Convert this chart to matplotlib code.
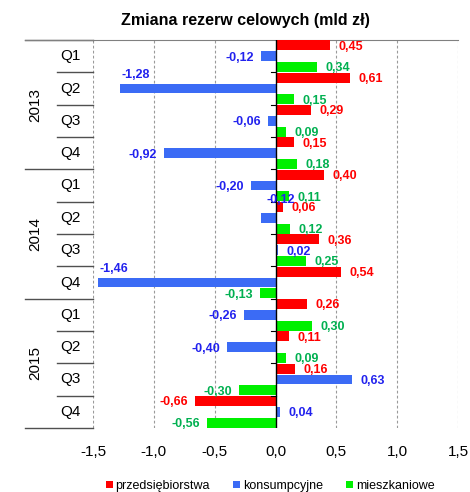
import matplotlib
matplotlib.use("Agg")
import matplotlib.pyplot as plt
import matplotlib.transforms as mtransforms
from matplotlib.patches import Patch
import numpy as np

plt.rcParams['font.family'] = ['Liberation Sans', 'DejaVu Sans']

years = ["2013", "2014", "2015"]
quarters = ["Q1", "Q2", "Q3", "Q4"]
series_names = ["przedsiębiorstwa", "konsumpcyjne", "mieszkaniowe"]

przedsiebiorstwa = [0.45, 0.61, 0.29, 0.15, 0.40, 0.06, 0.36, 0.54, 0.26, 0.11, 0.16, -0.66]
konsumpcyjne = [-0.12, -1.28, -0.06, -0.92, -0.20, -0.12, 0.02, -1.46, -0.26, -0.40, 0.63, 0.04]
mieszkaniowe = [0.34, 0.15, 0.09, 0.18, 0.11, 0.12, 0.25, -0.13, 0.30, 0.09, -0.30, -0.56]

bar_colors = ["#FF0000", "#3B6BF5", "#00F000"]
label_colors = ["#FF0000", "#2222EE", "#00B050"]

fig = plt.figure(figsize=(4.70, 4.92), dpi=100)
ax = fig.add_axes([93 / 470, 1 - 428 / 492, 365 / 470, 388 / 492])

n = len(przedsiebiorstwa)
pos = np.arange(n)
h = 1 / 3
offsets = [-h, 0, h]
series = [przedsiebiorstwa, konsumpcyjne, mieszkaniowe]

for vals, off, col in zip(series, offsets, bar_colors):
    ax.barh(pos + off, vals, height=h * 0.92, color=col, zorder=3)

ax.set_xlim(-1.5, 1.5)
ax.set_ylim(n - 0.5, -0.5)

# vertical dashed grid
for xv in [-1.5, -1.0, -0.5, 0.5, 1.0, 1.5]:
    ax.axvline(xv, color="#9A9A9A", lw=0.8, ls=(0, (2.5, 2)), zorder=1)
ax.axvline(0, color="black", lw=1.0, zorder=4)

# small ticks on the zero line at group boundaries
for b in np.arange(-0.5, n, 1.0)[1:-1]:
    ax.plot([-0.04, 0], [b, b], color="black", lw=0.8, zorder=4, clip_on=False)

for s in ["left", "right", "bottom"]:
    ax.spines[s].set_visible(False)
ax.spines["top"].set_color("#808080")
ax.spines["top"].set_linewidth(0.8)

ax.set_xticks([-1.5, -1.0, -0.5, 0.0, 0.5, 1.0, 1.5])
ax.set_xticklabels(["-1,5", "-1,0", "-0,5", "0,0", "0,5", "1,0", "1,5"], fontsize=11)
ax.tick_params(axis="x", length=0, pad=12)
ax.set_yticks([])

# hierarchical category axis: quarters and years
trans = mtransforms.blended_transform_factory(ax.transAxes, ax.transData)
q_left = -36 / 365
y_left = -68 / 365
for i in range(n):
    ax.text(-23 / 365, i, quarters[i % 4], transform=trans, ha="center", va="center", fontsize=11)
for b in np.arange(-0.5, n + 0.5, 1.0):
    is_year = abs((b + 0.5) % 4) < 1e-9
    left = y_left if is_year else q_left
    ax.plot([left, 0], [b, b], transform=trans, color="#505050", lw=1.0, clip_on=False)
for k, yr in enumerate(years):
    ax.text(-58 / 365, 4 * k + 1.5, yr, transform=trans, ha="center", va="center",
            rotation=90, fontsize=11)
ax.plot([y_left, 0], [-0.5, -0.5], transform=trans, color="#808080", lw=0.8, clip_on=False)

# data labels
def fmt(v):
    return f"{v:.2f}".replace(".", ",")

special = {(1, 7): "above_left", (1, 1): "above_left", (1, 5): "above_zero"}
for si, (vals, off, lc) in enumerate(zip(series, offsets, label_colors)):
    for i, v in enumerate(vals):
        y = i + off
        mode = special.get((si, i))
        if mode == "above_left":
            ax.annotate(fmt(v), (v, y), xytext=(1, 10), textcoords="offset points",
                        ha="left", va="center", color=lc, fontsize=9, fontweight="bold", zorder=5)
        elif mode == "above_zero":
            ax.annotate(fmt(v), (0, y), xytext=(4, 13), textcoords="offset points",
                        ha="center", va="center", color=lc, fontsize=9, fontweight="bold", zorder=5)
        elif v >= 0:
            ax.annotate(fmt(v), (v, y), xytext=(6, -1), textcoords="offset points",
                        ha="left", va="center", color=lc, fontsize=9, fontweight="bold", zorder=5)
        else:
            ax.annotate(fmt(v), (v, y), xytext=(-5, -1), textcoords="offset points",
                        ha="right", va="center", color=lc, fontsize=9, fontweight="bold", zorder=5)

fig.text(245 / 470, 1 - 20 / 492, "Zmiana rezerw celowych (mld zł)", ha="center", va="center",
         fontsize=11.5, fontweight="bold")

handles = [Patch(facecolor=c, edgecolor="none") for c in bar_colors]
fig.legend(handles, series_names, loc="center", bbox_to_anchor=(270 / 470, 1 - 486 / 492),
           ncol=3, frameon=False, fontsize=9, handlelength=0.55, handleheight=0.55,
           handletextpad=0.2, columnspacing=1.9)

fig.savefig("out.png", dpi=100)
